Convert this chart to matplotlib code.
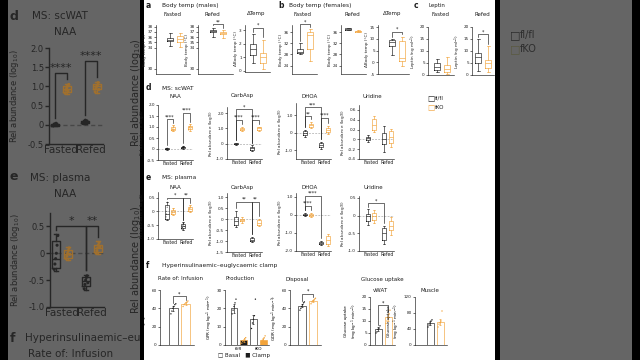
import numpy as np
import matplotlib
matplotlib.use('Agg')
import matplotlib.pyplot as plt
from matplotlib.patches import Rectangle

W, H = 640, 360

INK = '#1c1c1c'
ORANGE = '#f2a33a'
ZERO = '#a0a0a0'
DIM_BG = '#656565'
DIM_INK = '#262626'
DIM_ORANGE = '#a0702e'

# box stats: [whisker low, q1, median, q3, whisker high]
# four-box panels: fasted fl/fl, fasted fKO, refed fl/fl, refed fKO
scwat_naa = [[-0.04, -0.02, 0.0, 0.03, 0.05], [0.80, 0.86, 0.93, 1.00, 1.07],
             [0.02, 0.04, 0.07, 0.10, 0.13], [0.84, 0.92, 1.00, 1.05, 1.12]]
scwat_naa_pts = [[-0.03, 0.0, 0.02, -0.01, 0.04, 0.01], [0.82, 0.90, 0.95, 1.00, 0.88, 1.05],
                 [0.03, 0.06, 0.08, 0.12, 0.05, 0.10], [0.86, 0.95, 1.00, 1.03, 1.10, 0.92]]
scwat_carbasp = [[-0.06, -0.03, 0.0, 0.03, 0.06], [0.80, 0.88, 0.95, 1.03, 1.10],
                 [-0.50, -0.42, -0.30, -0.20, -0.10], [0.82, 0.90, 1.00, 1.08, 1.12]]
scwat_dhoa = [[-0.22, -0.12, 0.0, 0.08, 0.15], [0.25, 0.33, 0.45, 0.52, 0.60],
              [-0.90, -0.80, -0.68, -0.57, -0.50], [-0.05, 0.02, 0.15, 0.30, 0.38]]
scwat_uridine = [[-0.05, -0.02, 0.02, 0.04, 0.08], [0.15, 0.20, 0.30, 0.42, 0.48],
                 [-0.25, -0.10, 0.0, 0.13, 0.28], [-0.15, -0.08, 0.05, 0.18, 0.22]]

plasma_naa = [[-0.33, -0.28, -0.10, 0.22, 0.35], [-0.12, -0.08, -0.02, 0.06, 0.12],
              [-0.68, -0.60, -0.52, -0.44, -0.40], [-0.02, 0.02, 0.10, 0.16, 0.22]]
plasma_naa_pts = [[-0.30, -0.20, -0.10, 0.0, 0.15, 0.33], [-0.10, -0.05, 0.0, 0.05, 0.10, -0.02],
                  [-0.66, -0.58, -0.50, -0.45, -0.42, -0.55], [0.0, 0.05, 0.10, 0.15, 0.20, 0.12]]
plasma_carbasp = [[-0.35, -0.28, -0.10, 0.10, 0.38], [-0.15, -0.10, -0.05, 0.03, 0.10],
                  [-1.05, -1.00, -0.93, -0.86, -0.80], [-0.32, -0.25, -0.15, -0.05, 0.0]]
plasma_dhoa = [[-0.08, -0.04, 0.0, 0.04, 0.08], [-0.12, -0.06, 0.0, 0.06, 0.12],
               [-1.65, -1.60, -1.55, -1.50, -1.45], [-1.70, -1.60, -1.40, -1.15, -1.05]]
plasma_uridine = [[-0.27, -0.15, -0.02, 0.05, 0.17], [-0.20, -0.12, 0.0, 0.08, 0.15],
                  [-0.80, -0.68, -0.50, -0.36, -0.30], [-0.55, -0.42, -0.30, -0.15, -0.05]]

# two-box panels: fl/fl, fKO
male_fasted = [[34.4, 35.2, 35.5, 35.8, 36.8], [34.2, 35.0, 35.6, 36.3, 36.8]]
male_refed = [[36.0, 36.9, 37.2, 37.4, 37.8], [35.8, 36.5, 36.8, 37.0, 37.3]]
male_delta = [[0.6, 1.2, 1.6, 2.0, 2.7], [0.1, 0.6, 1.0, 1.3, 2.3]]
female_fasted = [[28.0, 28.5, 29.0, 30.0, 32.0], [25.5, 30.0, 35.0, 36.0, 37.0]]
female_refed = [[36.7, 36.8, 37.0, 37.3, 37.4], [36.0, 36.1, 36.3, 36.5, 36.6]]
female_delta = [[3.0, 7.0, 8.5, 9.5, 10.0], [-1.5, 0.5, 2.0, 9.0, 11.0]]
leptin_fasted = [[1.2, 2.1, 3.4, 5.0, 6.6], [0.4, 1.3, 2.4, 4.2, 7.5]]
leptin_refed = [[1.7, 5.0, 7.5, 9.2, 15.0], [1.3, 2.9, 5.0, 6.2, 12.0]]

# clamp bars (mean, sem, points)
gir_mean, gir_sem = [40, 45], [2.5, 1.5]
gir_pts = [[34, 37, 40, 42, 44, 45], [42, 44, 45, 46, 47, 48]]
gpr_mean, gpr_sem = [20, 2.5, 14, 3.0], [2.5, 0.6, 2.5, 0.8]
gpr_pts = [[17, 19, 21, 23, 25], [1, 2, 2.5, 3.5, 4], [9, 12, 14, 16, 25], [1.5, 2.5, 3, 4, 5]]
gdr_mean, gdr_sem = [43, 48], [2.0, 1.5]
gdr_pts = [[38, 40, 42, 44, 46, 47], [45, 47, 48, 49, 50, 51]]
vwat_mean, vwat_sem = [6.5, 11.5], [0.8, 1.3]
vwat_pts = [[5, 5.5, 6.5, 7, 8], [9, 10, 11.5, 13, 14.5]]
muscle_mean, muscle_sem = [55, 58], [4, 7]
muscle_pts = [[45, 50, 55, 60, 63], [45, 52, 56, 60, 85]]

POS4 = [0, 1, 2.5, 3.5]
POS2 = [0, 1]
C4 = [INK, ORANGE, INK, ORANGE]
C2 = [INK, ORANGE]
RLAB = 'Rel abundance (log$_{10}$)'
UNIT = '(mg kg$^{-1}$ min$^{-1}$)'

fig = plt.figure(figsize=(6.4, 3.6), dpi=100, facecolor='black')


def px_axes(x0, y0, x1, y1, z=2):
    ax = fig.add_axes([x0 / W, 1 - y1 / H, (x1 - x0) / W, (y1 - y0) / H])
    ax.set_zorder(z)
    ax.patch.set_visible(False)
    return ax


def rect(x0, y0, x1, y1, color, z):
    fig.add_artist(Rectangle((x0 / W, 1 - y1 / H), (x1 - x0) / W, (y1 - y0) / H,
                             transform=fig.transFigure, facecolor=color,
                             edgecolor='none', zorder=z))


def txt(x, y, s, z=3, **kw):
    kw.setdefault('ha', 'left')
    kw.setdefault('va', 'center')
    kw.setdefault('color', INK)
    return fig.text(x / W, 1 - y / H, s, zorder=z, **kw)


def style_axes(ax, ylim, ticks, labels, fs, lw, ink, tl=1.5):
    ax.set_ylim(*ylim)
    ax.set_yticks(ticks)
    ax.set_yticklabels(labels)
    for s in ('top', 'right'):
        ax.spines[s].set_visible(False)
    for s in ('left', 'bottom'):
        ax.spines[s].set_linewidth(lw)
        ax.spines[s].set_color(ink)
    ax.tick_params(axis='y', labelsize=fs, length=tl, width=lw, pad=0.8, colors=ink)


def box_panel(box, stats, colors, pos, xlim, ylim, ticks, labels, fs=3, lw=0.45, ms=0.5,
              pts=None, zero=True, groups=True, ylabel=RLAB, marks=(),
              ink=INK, z=2, lab_fs=3.3, star_fs=3.4, ypad=0.5, zero_color=ZERO, tl=1.5):
    ax = px_axes(*box, z=z)
    for i, (st, c) in enumerate(zip(stats, colors)):
        ax.bxp([dict(whislo=st[0], q1=st[1], med=st[2], q3=st[3], whishi=st[4])],
               positions=[pos[i]], widths=0.6, capwidths=0.3, showfliers=False,
               manage_ticks=False,
               boxprops=dict(color=c, lw=lw), whiskerprops=dict(color=c, lw=lw),
               capprops=dict(color=c, lw=lw), medianprops=dict(color=c, lw=lw))
        if pts is not None:
            vals = pts[i]
            ax.scatter(pos[i] + np.linspace(-0.15, 0.15, len(vals)), vals, s=ms,
                       color=c, edgecolors='none', zorder=3)
    if zero:
        ax.axhline(0, color=zero_color, ls=(0, (3, 2)), lw=lw, zorder=0)
    ax.set_xlim(*xlim)
    style_axes(ax, ylim, ticks, labels, fs, lw, ink, tl)
    if groups:
        ax.set_xticks([0.5, 3.0])
        ax.set_xticklabels(['Fasted', 'Refed'])
        ax.tick_params(axis='x', length=0, labelsize=lab_fs, pad=1, colors=ink)
    else:
        ax.set_xticks([])
    if ylabel:
        ax.set_ylabel(ylabel, fontsize=fs, labelpad=ypad, color=ink)
    gap = 0.05 * (ylim[1] - ylim[0])
    for i, j, y, lab in marks:
        ax.plot([pos[i], pos[i], pos[j], pos[j]],
                [stats[i][4] + gap, y, y, stats[j][4] + gap],
                color=ink, lw=lw, clip_on=False)
        ax.text((pos[i] + pos[j]) / 2, y, lab, ha='center', va='bottom',
                fontsize=star_fs, color=ink, clip_on=False)
    return ax


def bar_panel(box, means, sems, pts, faces, edges, xlim, ylim, ticks, ylabel,
              fs=3, lw=0.45, marks=(), groups=None):
    ax = px_axes(*box)
    pos = np.arange(len(means))
    ax.bar(pos, means, width=0.7, color=faces, edgecolor=edges, linewidth=lw, zorder=2)
    for p, m, e, vals, c in zip(pos, means, sems, pts, edges):
        ax.errorbar([p], [m], yerr=[e], fmt='none', ecolor=c, elinewidth=lw,
                    capsize=1, capthick=lw, zorder=3)
        ax.scatter(p + np.linspace(-0.2, 0.2, len(vals)), vals, s=1.0, color=c,
                   edgecolors='none', zorder=4)
    ax.set_xlim(*xlim)
    style_axes(ax, ylim, ticks, ['%d' % t for t in ticks], fs, lw, INK)
    if groups:
        ax.set_xticks([0.5, 2.5])
        ax.set_xticklabels(groups)
        ax.tick_params(axis='x', length=0, labelsize=3.2, pad=1.5)
    else:
        ax.set_xticks([])
    ax.set_ylabel(ylabel, fontsize=fs, labelpad=1.2)
    for i, j, y, lab in marks:
        top_i = means[i] + sems[i] + 0.05 * ylim[1]
        top_j = means[j] + sems[j] + 0.05 * ylim[1]
        ax.plot([i, i, j, j], [top_i, y, y, top_j], color=INK, lw=lw, clip_on=False)
        ax.text((i + j) / 2, y, lab, ha='center', va='bottom', fontsize=3.4, clip_on=False)
    return ax


# ---------- backgrounds ----------
rect(8, 0, 140, 360, DIM_BG, -5)
rect(144, 0, 495, 360, 'white', 1)
rect(140, 0, 144, 360, 'black', 1.5)
rect(500, 0, 632, 360, DIM_BG, -5)

# ---------- zoomed left panel (dimmed) ----------
dz = dict(fs=6, lw=1.0, ms=5, ink=DIM_INK, z=0, lab_fs=7.5, star_fs=8, ypad=5,
          zero_color='#474747', tl=3)
box_panel((49, 48, 103, 144), scwat_naa, [DIM_INK, DIM_ORANGE] * 2, POS4, (-0.5, 4.0),
          (-0.5, 2.0), [-0.5, 0, 0.5, 1.0, 1.5, 2.0],
          ['-0.5', '0', '0.5', '1.0', '1.5', '2.0'], pts=scwat_naa_pts,
          marks=[(0, 1, 1.35, '****'), (2, 3, 1.65, '****')], **dz)
box_panel((50, 213, 104, 307), plasma_naa, [DIM_INK, DIM_ORANGE] * 2, POS4, (-0.5, 4.0),
          (-1.0, 0.75), [-1.0, -0.5, 0, 0.5], ['-1.0', '-0.5', '0', '0.5'],
          pts=plasma_naa_pts, marks=[(0, 2, 0.5, '*'), (2, 3, 0.5, '**')], **dz)
txt(10, 16, 'd', z=0.5, fontsize=9, fontweight='bold', color=DIM_INK)
txt(60, 16, 'MS: scWAT', z=0.5, fontsize=7.5, ha='center', color=DIM_INK)
txt(65, 32, 'NAA', z=0.5, fontsize=7.5, ha='center', color=DIM_INK)
txt(10, 177, 'e', z=0.5, fontsize=9, fontweight='bold', color=DIM_INK)
txt(60, 178, 'MS: plasma', z=0.5, fontsize=7.5, ha='center', color=DIM_INK)
txt(65, 194, 'NAA', z=0.5, fontsize=7.5, ha='center', color=DIM_INK)
txt(10, 338, 'f', z=0.5, fontsize=9, fontweight='bold', color=DIM_INK)
txt(25, 338, 'Hyperinsulinaemic\u2013euglycaemic clamp', z=0.5, fontsize=7.5, color=DIM_INK)
txt(28, 354, 'Rate of: Infusion', z=0.5, fontsize=7.5, color=DIM_INK)
txt(136, 93, RLAB, z=0.5, fontsize=7, rotation=90, ha='center', color=DIM_INK)
txt(136, 260, RLAB, z=0.5, fontsize=7, rotation=90, ha='center', color=DIM_INK)

# ---------- right legend (dimmed) ----------
txt(510, 35, '\u25a1', z=0.5, fontsize=8, color='#2a2a2a')
txt(520, 35, 'fl/fl', z=0.5, fontsize=7, color='#2e2e2e')
txt(510, 49, '\u25a1', z=0.5, fontsize=8, color='#5a5940')
txt(520, 49, 'fKO', z=0.5, fontsize=7, color='#2e2e2e')

# ---------- row a-c ----------
tick1 = dict(groups=False, zero=False)
BT = ['30', '34', '35', '36', '37', '38']
FT = ['24', '28', '32', '36']
LT = ['0', '5', '10', '15', '20']
box_panel((156, 25, 190, 74), male_fasted, C2, POS2, (-1.4, 2.0), (29, 38.3),
          [30, 34, 35, 36, 37, 38], BT, ylabel='Body temp (\u00b0C)', **tick1)
box_panel((198, 25, 233, 74), male_refed, C2, POS2, (-1.5, 2.0), (29, 38.3),
          [30, 34, 35, 36, 37, 38], BT, ylabel='Body temp (\u00b0C)',
          marks=[(0, 1, 38.4, '**')], **tick1)
box_panel((245, 25, 270, 72), male_delta, C2, POS2, (-0.8, 1.7), (-0.1, 3.4),
          [0, 1, 2, 3], ['0', '1', '2', '3'], ylabel='\u0394Body temp (\u00b0C)',
          marks=[(0, 1, 3.2, '*')], **tick1)
box_panel((292, 25, 317, 74), female_fasted, C2, POS2, (-0.8, 1.7), (21, 38.5),
          [24, 28, 32, 36], FT, ylabel='Body temp (\u00b0C)',
          marks=[(0, 1, 38.8, '*')], **tick1)
box_panel((341, 25, 366, 74), female_refed, C2, POS2, (-0.7, 1.8), (21, 38.5),
          [24, 28, 32, 36], FT, ylabel='Body temp (\u00b0C)', **tick1)
box_panel((378, 25, 409, 74), female_delta, C2, POS2, (-1.4, 1.7), (-5, 16),
          [-5, 0, 5, 10, 15], ['-5', '0', '5', '10', '15'],
          ylabel='\u0394Body temp (\u00b0C)', marks=[(0, 1, 13, '*')], **tick1)
box_panel((428, 27, 454, 75), leptin_fasted, C2, POS2, (-0.9, 1.7), (0, 20),
          [0, 5, 10, 15, 20], LT, ylabel='Leptin (ng ml$^{-1}$)', **tick1)
box_panel((472, 27, 494, 75), leptin_refed, C2, POS2, (-0.6, 1.6), (0, 20),
          [0, 5, 10, 15, 20], LT, ylabel='Leptin (ng ml$^{-1}$)',
          marks=[(0, 1, 17, '*')], **tick1)

hdr = dict(fontsize=4.2)
sub = dict(fontsize=4.0, ha='center')
txt(146, 6, 'a', fontsize=5.5, fontweight='bold')
txt(162, 6, 'Body temp (males)', **hdr)
txt(278, 6, 'b', fontsize=5.5, fontweight='bold')
txt(289, 6, 'Body temp (females)', **hdr)
txt(414, 5, 'c', fontsize=5.5, fontweight='bold')
txt(437, 5, 'Leptin', **sub)
for x, s in [(172, 'Fasted'), (212, 'Refed'), (256, '\u0394Temp'), (303, 'Fasted'),
             (352, 'Refed'), (392, '\u0394Temp'), (440, 'Fasted'), (482, 'Refed')]:
    txt(x, 14, s, **sub)

# ---------- row d ----------
XL4 = (-1.3, 4.0)
box_panel((158, 105, 193, 160), scwat_naa, C4, POS4, XL4, (-0.5, 2.0),
          [-0.5, 0, 0.5, 1.0, 1.5, 2.0], ['-0.5', '0', '0.5', '1.0', '1.5', '2.0'],
          pts=scwat_naa_pts, marks=[(0, 1, 1.35, '****'), (2, 3, 1.65, '****')])
box_panel((227, 107, 262, 159), scwat_carbasp, C4, POS4, XL4, (-1.0, 2.4),
          [-1, 0, 1, 2], ['-1.0', '0', '1.0', '2.0'],
          marks=[(0, 1, 1.55, '****'), (2, 3, 1.55, '****'), (0, 2, 2.25, '*')])
box_panel((296, 103, 331, 159), scwat_dhoa, C4, POS4, XL4, (-1.5, 1.7),
          [-1, 0, 1], ['-1.0', '0', '1.0'],
          marks=[(0, 1, 0.95, '**'), (2, 3, 0.85, '****'), (0, 2, 1.45, '***')])
box_panel((359, 105, 394, 159), scwat_uridine, C4, POS4, XL4, (-0.4, 0.7),
          [-0.4, -0.2, 0, 0.2, 0.4, 0.6], ['-0.4', '-0.2', '0', '0.2', '0.4', '0.6'])
txt(146, 88, 'd', fontsize=5.5, fontweight='bold')
txt(162, 88, 'MS: scWAT', **hdr)
for x, s in [(175, 'NAA'), (242, 'CarbAsp'), (310, 'DHOA'), (372, 'Uridine')]:
    txt(x, 96, s, **sub)

# legend in figure
txt(427, 98, '\u25a1', fontsize=5.5)
txt(435, 98, 'fl/fl', fontsize=4)
txt(427, 107, '\u25a1', fontsize=5.5, color=ORANGE)
txt(435, 107, 'fKO', fontsize=4)

# ---------- row e ----------
box_panel((158, 192, 193, 239), plasma_naa, C4, POS4, XL4, (-1.0, 0.7),
          [-1.0, -0.5, 0, 0.5], ['-1.0', '-0.5', '0', '0.5'], pts=plasma_naa_pts,
          marks=[(0, 2, 0.5, '*'), (2, 3, 0.5, '**')])
box_panel((227, 193, 262, 252), plasma_carbasp, C4, POS4, XL4, (-1.5, 1.2),
          [-1.5, -1.0, -0.5, 0, 0.5, 1.0], ['-1.5', '-1.0', '-0.5', '0', '0.5', '1.0'],
          marks=[(0, 2, 0.8, '**'), (2, 3, 0.8, '**')])
box_panel((296, 193, 331, 251), plasma_dhoa, C4, POS4, XL4, (-2.0, 1.2),
          [-2, -1, 0, 1], ['-2.0', '-1.0', '0', '1.0'],
          marks=[(0, 1, 0.5, '****'), (0, 2, 1.05, '****')])
box_panel((359, 196, 394, 251), plasma_uridine, C4, POS4, XL4, (-1.0, 0.55),
          [-1.0, -0.5, 0, 0.5], ['-1.0', '-0.5', '0', '0.5'],
          marks=[(0, 2, 0.35, '*')])
txt(146, 178, 'e', fontsize=5.5, fontweight='bold')
txt(162, 178, 'MS: plasma', **hdr)
for x, s in [(175, 'NAA'), (242, 'CarbAsp'), (310, 'DHOA'), (373, 'Uridine')]:
    txt(x, 187, s, **sub)

# ---------- row f ----------
bar_panel((160, 290, 194, 345), gir_mean, gir_sem, gir_pts, ['white', 'white'], C2,
          (-1.1, 1.7), (0, 60), [0, 20, 40, 60], 'GIR ' + UNIT, marks=[(0, 1, 53, '*')])
bar_panel((225, 290, 269, 345), gpr_mean, gpr_sem, gpr_pts,
          ['white', INK, 'white', ORANGE], C4, (-0.93, 3.6), (0, 30), [0, 10, 20, 30],
          'GPR ' + UNIT, groups=['fl/fl', 'fKO'])
bar_panel((290, 290, 321, 345), gdr_mean, gdr_sem, gdr_pts, ['white', 'white'], C2,
          (-1.1, 1.7), (0, 60), [0, 20, 40, 60], 'GDR ' + UNIT, marks=[(0, 1, 56, '*')])
bar_panel((370, 297, 395, 345), vwat_mean, vwat_sem, vwat_pts, ['white', 'white'], C2,
          (-0.8, 1.7), (0, 20), [0, 5, 10, 15, 20], 'Glucose uptake\n' + UNIT,
          marks=[(0, 1, 16.5, '*')])
bar_panel((415, 297, 447, 345), muscle_mean, muscle_sem, muscle_pts, ['white', 'white'], C2,
          (-1.5, 1.7), (0, 120), [0, 40, 80, 120], 'Glucose uptake\n' + UNIT)
txt(146, 266, 'f', fontsize=5.5, fontweight='bold')
txt(162, 266, 'Hyperinsulinaemic\u2013euglycaemic clamp', **hdr)
for x, y, s in [(180, 279, 'Rate of: Infusion'), (240, 279, 'Production'),
                (297, 279, 'Disposal'), (382, 280, 'Glucose uptake'),
                (380, 290, 'vWAT'), (430, 290, 'Muscle')]:
    txt(x, y, s, **sub)
txt(244, 355, '\u25a1 Basal   \u25a0 Clamp', fontsize=4, ha='center')

fig.savefig('out.png', dpi=100, facecolor=fig.get_facecolor())
